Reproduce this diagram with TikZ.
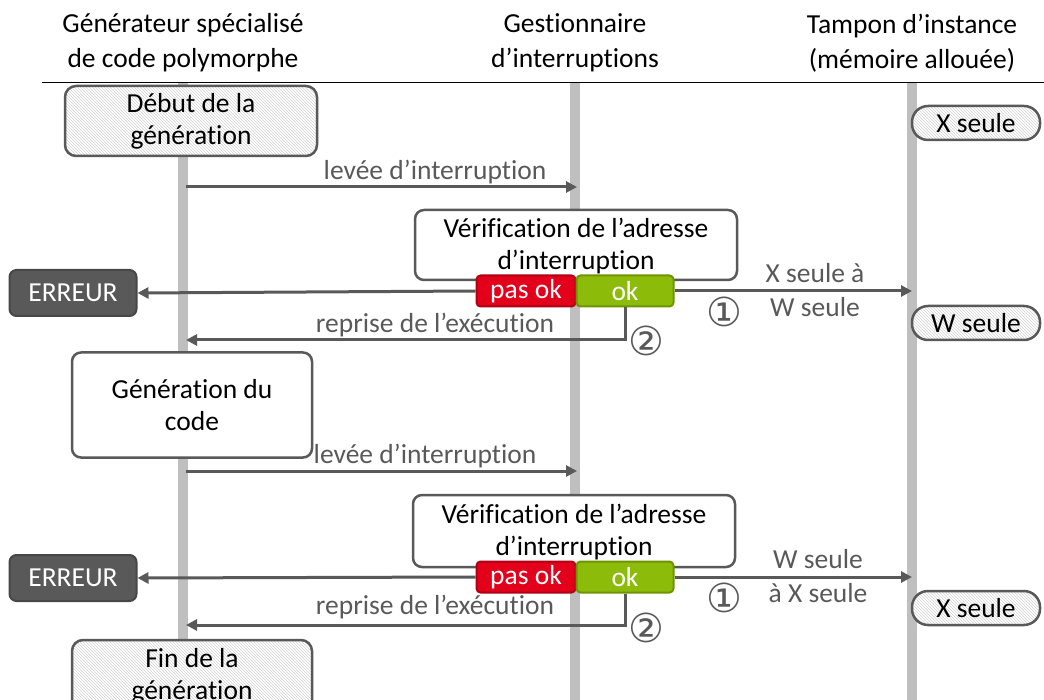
\documentclass[tikz,border=0pt]{standalone}
\usepackage{fontspec}
\setmainfont{Carlito}[Ligatures=NoCommon]
\newfontfamily\symfont{DejaVu Sans}
\usetikzlibrary{arrows.meta,patterns}
\definecolor{dgray}{HTML}{595959}
\definecolor{lgray}{HTML}{BFBFBF}
\definecolor{redok}{HTML}{E2001A}
\definecolor{redbd}{HTML}{B00015}
\definecolor{greenok}{HTML}{8DBB0A}
\definecolor{greenbd}{HTML}{6E9400}
\begin{document}
\begin{tikzpicture}[x=1pt,y=-1pt,
  every node/.style={font=\fontsize{27.5}{32}\selectfont, align=center, inner sep=0pt},
  lifeline/.style={draw=lgray, line width=10pt},
  hatchbox/.style={draw=dgray, line width=2.5pt, rounded corners=11pt, preaction={fill=white}, pattern=north west lines, pattern color=gray!35},
  plainbox/.style={draw=dgray, line width=2.5pt, rounded corners=9pt, fill=white},
  pill/.style={draw=dgray, line width=2.5pt, rounded corners=16pt, preaction={fill=white}, pattern=north west lines, pattern color=gray!35, minimum width=128pt, minimum height=34pt},
  errbox/.style={draw=dgray!80!black, line width=2pt, rounded corners=7pt, fill=dgray, text=white, minimum width=127pt, minimum height=46pt},
  redbox/.style={draw=redbd, line width=2pt, rounded corners=4pt, fill=redok, text=white, minimum width=99pt, minimum height=31pt},
  greenbox/.style={draw=greenbd, line width=2pt, rounded corners=4pt, fill=greenok, text=white, minimum width=97pt, minimum height=31pt},
  msg/.style={draw=dgray, line width=3pt, -{Triangle[length=11pt,width=11pt]}},
  lbl/.style={text=dgray, font=\fontsize{27.5}{34}\selectfont},
  num/.style={text=dgray, font=\symfont\fontsize{40}{40}\selectfont}
]
\useasboundingbox (0,0) rectangle (1044,700);
% headers
\node[font=\fontsize{27.5}{35}\selectfont] (h1) at (183,43) {Générateur spécialisé\\de code polymorphe};
\node[font=\fontsize{27.5}{35}\selectfont] (h2) at (575,43) {Gestionnaire\\d’interruptions};
\node[font=\fontsize{27.5}{35}\selectfont] (h3) at (912,43) {Tampon d’instance\\(mémoire allouée)};
\draw[line width=1pt] (42,83) -- (1044,83);
% lifelines
\coordinate (g1) at (183,83); \coordinate (g1e) at (183,700);
\coordinate (g2) at (575,83); \coordinate (g2e) at (575,700);
\coordinate (g3) at (912,83); \coordinate (g3e) at (912,700);
\draw[lifeline] (g1) -- (g1e);
\draw[lifeline] (g2) -- (g2e);
\draw[lifeline] (g3) -- (g3e);
% start
\node[hatchbox, minimum width=252pt, minimum height=70pt] (deb) at (191,121) {Début de la\\génération};
\node[pill] (x1) at (976,123) {X seule};
% first interruption
\coordinate (a1s) at (186,187); \coordinate (a1e) at (577,187);
\draw[msg] (a1s) -- (a1e);
\node[lbl] (la1) at (435,172) {levée d’interruption};
\node[plainbox, minimum width=322pt, minimum height=70pt] (v1) at (576,245) {};
\node (v1t) at (576,246) {Vérification de l’adresse\\d’interruption};
\node[redbox] (p1) at (526,291) {pas ok};
\node[greenbox] (o1) at (625,291) {ok};
\node[errbox] (e1) at (73,293) {ERREUR};
\draw[msg] (p1.west) -- (e1.east);
\coordinate (t1) at (912,291);
\draw[msg] (o1.east) -- (t1);
\node[lbl] (lt1) at (815,290) {X seule à\\W seule};
\node[num] (n11) at (724,312) {①};
\coordinate (r1a) at (625,340); \coordinate (r1b) at (186,340);
\draw[msg] (o1.south) -- (r1a) -- (r1b);
\node[lbl] (lr1) at (435,325) {reprise de l’exécution};
\node[num] (n12) at (646,341) {②};
\node[pill] (w1) at (976,323) {W seule};
% generation
\node[plainbox, minimum width=240pt, minimum height=105pt] (gen) at (192,405) {Génération du\\code};
% second interruption
\coordinate (a2s) at (186,471); \coordinate (a2e) at (577,471);
\draw[msg] (a2s) -- (a2e);
\node[lbl] (la2) at (425,456) {levée d’interruption};
\node[plainbox, minimum width=322pt, minimum height=72pt] (v2) at (574,531) {};
\node (v2t) at (574,532) {Vérification de l’adresse\\d’interruption};
\node[redbox] (p2) at (526,577) {pas ok};
\node[greenbox] (o2) at (625,577) {ok};
\node[errbox] (e2) at (73,578) {ERREUR};
\draw[msg] (p2.west) -- (e2.east);
\coordinate (t2) at (912,577);
\draw[msg] (o2.east) -- (t2);
\node[lbl] (lt2) at (818,576) {W seule\\à X seule};
\node[num] (n21) at (724,598) {①};
\coordinate (r2a) at (625,625); \coordinate (r2b) at (186,625);
\draw[msg] (o2.south) -- (r2a) -- (r2b);
\node[lbl] (lr2) at (435,607) {reprise de l’exécution};
\node[num] (n22) at (646,628) {②};
\node[pill] (x2) at (976,608) {X seule};
% end
\node[hatchbox, minimum width=240pt, minimum height=72pt] (fin) at (192,676) {Fin de la\\génération};
\end{tikzpicture}
\end{document}
